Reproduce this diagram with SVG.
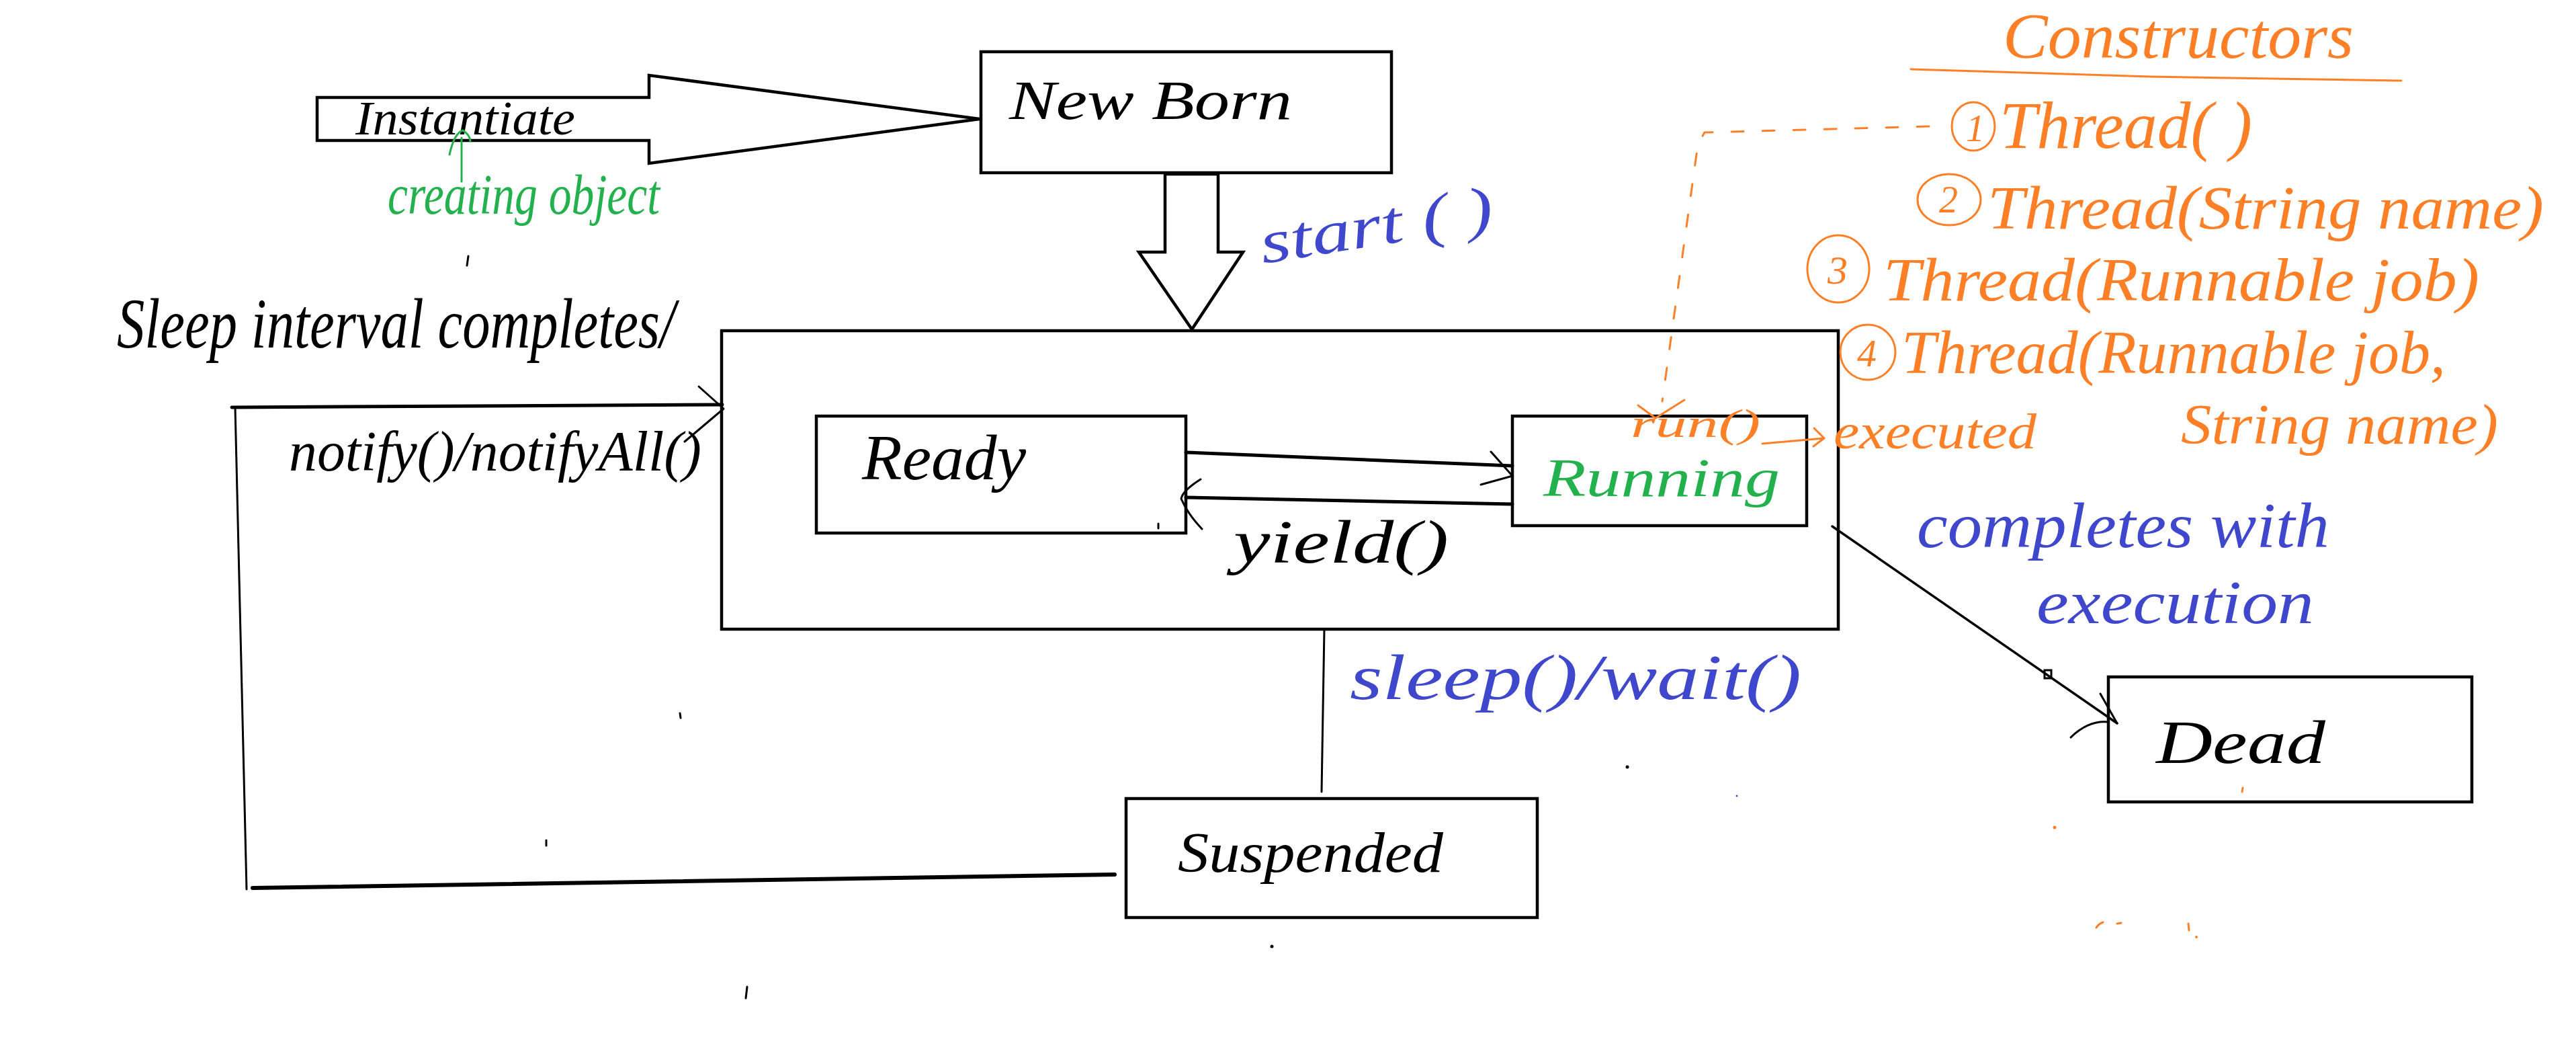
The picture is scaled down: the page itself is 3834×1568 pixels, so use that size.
<svg xmlns="http://www.w3.org/2000/svg" width="3834" height="1568" viewBox="0 0 3834 1568">
<style>
.box{fill:none;stroke:#000;stroke-width:4.5}
.blk{fill:#fff;stroke:#000;stroke-width:4.5;stroke-linejoin:miter}
.t{font-family:"Liberation Serif","DejaVu Serif",serif;font-style:italic}
.k{fill:#000}.g{fill:#22b14c}.b{fill:#3f48cc}.o{fill:#ff7f27}
.ln{fill:none;stroke:#000;stroke-linecap:round;stroke-linejoin:round}
.ol{fill:none;stroke:#ff7f27;stroke-width:3;stroke-linecap:round;stroke-linejoin:round}
.gl{fill:none;stroke:#22b14c;stroke-width:3;stroke-linecap:round;stroke-linejoin:round}
</style>
<rect width="3834" height="1568" fill="#fff"/>

<g id="instantiate-arrow">
<polygon class="blk" points="472,145 966,145 966,112 1458,177 966,243 966,209 472,209"/>
<text class="t k" x="529" y="200" font-size="72" textLength="327" lengthAdjust="spacingAndGlyphs">Instantiate</text>
</g>
<g id="creating-object">
<path class="gl" d="M687,270 L687,205 M669,230 Q676,198 689,194 Q699,200 700,210"/>
<text class="t g" x="577" y="318" font-size="85" textLength="405" lengthAdjust="spacingAndGlyphs">creating object</text>
</g>

<g id="newborn">
<rect class="box" x="1460" y="77" width="611" height="180"/>
<text class="t k" x="1502" y="177" font-size="82" textLength="421" lengthAdjust="spacingAndGlyphs">New Born</text>
</g>

<g id="start-arrow">
<polygon class="blk" points="1734,259 1734,375 1695,375 1774,490 1850,375 1813,375 1813,259"/>
<text class="t b" x="1880" y="392" font-size="90" textLength="350" lengthAdjust="spacingAndGlyphs" transform="rotate(-9 1880 392)">start ( )</text>
</g>

<g id="runnable-state">
<rect class="box" x="1074" y="492" width="1662" height="444"/>
</g>

<g id="ready">
<rect class="box" x="1215" y="619" width="550" height="174"/>
<text class="t k" x="1283" y="713" font-size="95" textLength="244" lengthAdjust="spacingAndGlyphs">Ready</text>
</g>

<g id="running">
<rect class="box" x="2251" y="619" width="438" height="163"/>
<text class="t g" x="2297" y="738" font-size="80" textLength="352" lengthAdjust="spacingAndGlyphs">Running</text>
</g>

<g id="suspended">
<rect class="box" x="1676" y="1188" width="612" height="177"/>
<text class="t k" x="1753" y="1297" font-size="85" textLength="395" lengthAdjust="spacingAndGlyphs">Suspended</text>
</g>

<g id="dead">
<rect class="box" x="3138" y="1007" width="541" height="186"/>
<text class="t k" x="3209" y="1135" font-size="90" textLength="252" lengthAdjust="spacingAndGlyphs">Dead</text>
</g>

<g id="constructors">
<text class="t o" x="2981" y="86" font-size="95" textLength="522" lengthAdjust="spacingAndGlyphs">Constructors</text>
<path class="ol" d="M2844,103 Q3000,108 3200,114 L3574,120"/>
<ellipse class="ol" cx="2937" cy="188" rx="32" ry="36"/>
<text class="t o" x="2926" y="210" font-size="56">1</text>
<text class="t o" x="2976" y="220" font-size="100" textLength="376" lengthAdjust="spacingAndGlyphs">Thread( )</text>
<ellipse class="ol" cx="2901" cy="297" rx="47" ry="38"/>
<text class="t o" x="2886" y="316" font-size="56">2</text>
<text class="t o" x="2958" y="340" font-size="90" textLength="828" lengthAdjust="spacingAndGlyphs">Thread(String name)</text>
<ellipse class="ol" cx="2736" cy="400" rx="46" ry="50"/>
<text class="t o" x="2720" y="422" font-size="60">3</text>
<text class="t o" x="2803" y="447" font-size="90" textLength="887" lengthAdjust="spacingAndGlyphs">Thread(Runnable job)</text>
<ellipse class="ol" cx="2780" cy="524" rx="41" ry="41"/>
<text class="t o" x="2764" y="545" font-size="58">4</text>
<text class="t o" x="2830" y="555" font-size="90" textLength="810" lengthAdjust="spacingAndGlyphs">Thread(Runnable job,</text>
<text class="t o" x="3246" y="660" font-size="85" textLength="472" lengthAdjust="spacingAndGlyphs">String name)</text>
</g>

<g id="run-executed">
<text class="t o" x="2427" y="650" font-size="60" textLength="193" lengthAdjust="spacingAndGlyphs">run()</text>
<text class="t o" x="2729" y="667" font-size="75" textLength="302" lengthAdjust="spacingAndGlyphs">executed</text>
</g>

<g id="labels">
<text class="t k" x="174" y="517" font-size="105" textLength="831" lengthAdjust="spacingAndGlyphs">Sleep interval completes/</text>
<text class="t k" x="430" y="700" font-size="85" textLength="614" lengthAdjust="spacingAndGlyphs">notify()/notifyAll()</text>
<text class="t k" x="1836" y="837" font-size="90" textLength="320" lengthAdjust="spacingAndGlyphs">yield()</text>
<text class="t b" x="2009" y="1040" font-size="95" textLength="672" lengthAdjust="spacingAndGlyphs">sleep()/wait()</text>
<text class="t b" x="2853" y="814" font-size="95" textLength="614" lengthAdjust="spacingAndGlyphs">completes with</text>
<text class="t b" x="3031" y="927" font-size="90" textLength="413" lengthAdjust="spacingAndGlyphs">execution</text>
</g>

<g id="connectors">
<path class="ln" stroke-width="5" d="M1765,673 L2251,693"/>
<path class="ln" stroke-width="3" d="M2219,672 L2251,708 L2204,721"/>
<path class="ln" stroke-width="5" d="M2251,750 L1765,740"/>
<path class="ln" stroke-width="3" d="M1787,713 Q1760,730 1758,742 Q1768,765 1789,787"/>
<path class="ln" stroke-width="5" d="M345,606 L1075,602"/>
<path class="ln" stroke-width="3" d="M1040,575 L1077,608 L1019,657"/>
<path class="ln" stroke-width="3" d="M350,606 L367,1323"/>
<path class="ln" stroke-width="6" d="M376,1321 L1659,1301"/>
<path class="ln" stroke-width="3" d="M1971,936 L1967,1178"/>
<path class="ln" stroke-width="3.5" d="M2727,783 L3151,1076"/>
<rect x="3043" y="997" width="10" height="12" fill="none" stroke="#000" stroke-width="3"/>
<path class="ln" stroke-width="3" d="M3082,1097 Q3108,1072 3136,1074 M3126,1032 L3151,1076"/>
<path class="ol" stroke-dasharray="18 28" d="M2871,188 L2537,197 L2527,215 L2474,597"/>
<path class="ol" d="M2438,603 L2464,622 L2507,595"/>
<path class="ol" d="M2623,660 L2715,652 M2700,637 L2715,652 L2699,664"/>
</g>

<g id="marks">
<path class="ln" stroke-width="3" d="M697,381 L695,395 M1012,1061 L1013,1068 M813,1250 L813,1258 M1112,1468 L1110,1485 M1724,779 L1724,786"/>
<circle cx="1893" cy="1408" r="2.5" fill="#000"/>
<circle cx="2422" cy="1141" r="2.5" fill="#000"/>
<circle cx="2585" cy="1184" r="1.5" fill="#3f48cc"/>
<path class="ol" d="M3338,1172 L3337,1178 M3120,1380 Q3124,1374 3130,1372 M3151,1374 L3157,1373 M3257,1374 L3258,1384"/>
<circle cx="3058" cy="1231" r="2.5" fill="#ff7f27"/>
<circle cx="3269" cy="1394" r="2" fill="#ff7f27"/>
</g>
</svg>
